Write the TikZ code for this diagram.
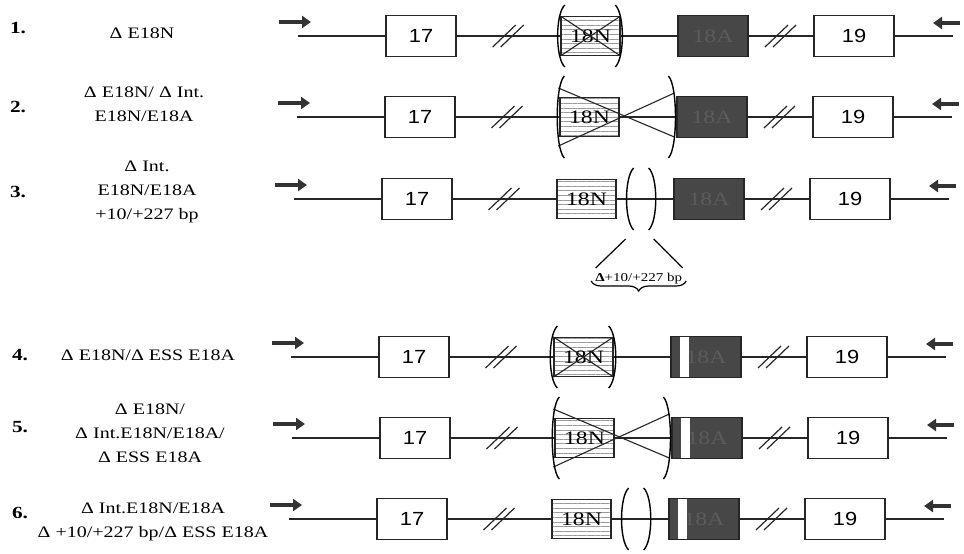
\documentclass[tikz,border=0pt]{standalone}
\usepackage{fontspec}
\setmainfont{Liberation Serif}[FakeStretch=1.25]
\newfontfamily\boxfont{Liberation Sans}[FakeStretch=1.15]
\usepackage{tikz}
\usetikzlibrary{arrows.meta,calc,positioning,patterns.meta}
\usetikzlibrary{decorations.pathreplacing}

\tikzset{
  pics/lbr/.style={code={\draw[line width=1.4pt] (7,-#1) .. controls (-2.5,-#1+9) and (-2.5,#1-9) .. (7,#1);}},
  pics/rbr/.style={code={\draw[line width=1.4pt] (-7,-#1) .. controls (2.5,-#1+9) and (2.5,#1-9) .. (-7,#1);}}
}

\begin{document}
\begin{tikzpicture}[x=1pt,y=-1pt,
    line/.style={draw=black!85, line width=1.3pt},
    exon/.style={draw=black!85, line width=1.3pt, inner sep=0pt, minimum height=41pt, fill=white, font=\boxfont\fontsize{19}{19}\selectfont},
    exonN/.style={exon, minimum width=59pt, minimum height=39pt, pattern={Lines[angle=0,distance=4.6pt,line width=0.5pt]}, pattern color=black!40, font=\rmfamily\fontsize{19}{19}\selectfont},
    exonA/.style={exon, minimum width=70pt, fill=black!72, text=black!64, font=\rmfamily\fontsize{19}{19}\selectfont},
    primer/.style={line width=4.5pt, draw=black!80, -{Triangle[length=9pt,width=12pt]}},
    cut/.style={line width=1.2pt, draw=black!85},
    lbl/.style={align=center, font=\fontsize{16}{24}\selectfont},
    num/.style={font=\bfseries\fontsize{17}{17}\selectfont}]
        \useasboundingbox (0,0) rectangle (964,554);
        %Rows
        \foreach \r/\yy/\dx in {1/36/0,2/117/-1,3/199/-4,4/357/-7,5/438/-6,6/519/-9}{
          \begin{scope}[shift={(\dx,\yy)}]
            \coordinate (s-\r) at (298,0);
            \coordinate (e-\r) at (953,0);
            \node[exon, minimum width=70pt] (a17-\r) at (421,0) {17};
            \node[exonN] (a18n-\r) at (590.5,0) {18N};
            \node[exonA] (a18a-\r) at (713,0) {18A};
            \node[exon, minimum width=80pt] (a19-\r) at (854,0) {19};
            \draw[line] (s-\r) -- (a17-\r) -- coordinate (c1-\r) (a18n-\r) -- (a18a-\r) -- coordinate (c2-\r) (a19-\r) -- (e-\r);
            %Primers
            \draw[primer] (279,-14) -- (311,-14);
            \draw[primer] (960,-13) -- (933,-13);
          \end{scope}
          %Breaks
          \foreach \c in {c1-\r,c2-\r}
            \draw[cut] ($(\c)+(-16,11)$) -- ++(23,-22) ($(\c)+(-8,11)$) -- ++(23,-22);
        }
        %Deleted exon 18N
        \foreach \r in {1,4}{
          \draw[line, line width=1.1pt] (a18n-\r.north west) -- (a18n-\r.south east) (a18n-\r.south west) -- (a18n-\r.north east);
          \pic at ($(a18n-\r.west)+(-3,0)$) {lbr=31};
          \pic at ($(a18n-\r.east)+(2,0)$) {rbr=31};
        }
        %Deleted exon 18N and intron
        \foreach \r in {2,5}{
          \draw[line, line width=1.1pt] ($(a18n-\r.west)+(-1,-29)$) -- ($(a18a-\r.west)+(-2,20)$)
            ($(a18n-\r.west)+(-1,29)$) -- ($(a18a-\r.west)+(-2,-24)$);
          \pic at ($(a18n-\r.west)+(-2,0)$) {lbr=41};
          \pic at ($(a18a-\r.west)+(-1,0)$) {rbr=41};
        }
        %Deleted +10/+227 bp
        \foreach \r in {3,6}{
          \pic at ($(a18n-\r.east)+(10,0)$) {lbr=31};
          \pic at ($(a18n-\r.east)+(39,0)$) {rbr=31};
        }
        %ESS
        \foreach \r in {4,5,6}
          \fill[white] ($(a18a-\r.north west)+(10,1.3)$) rectangle ($(a18a-\r.south west)+(19,-1.3)$);
        %Zoom on the deletion
        \coordinate (dl) at ($(a18n-3.east)+(9,40)$);
        \coordinate (dr) at ($(a18n-3.east)+(37,40)$);
        \node[inner sep=0pt, font=\fontsize{12}{12}\selectfont] (dbp) at ($(a18n-3.east)+(22,80)$) {\textbf{Δ}+10/+227 bp};
        \draw[line width=1.2pt] (dl) -- ++(-30,29) (dr) -- ++(29,29);
        \draw[line width=1.2pt, decorate, decoration={brace, mirror, amplitude=10pt}] ($(dbp.west)+(-4,2)$) -- ($(dbp.east)+(4,2)$);
        %Labels
        \node[num] (n1) at (18,28) {1.};
        \node[lbl] (l1) at (142,33) {Δ E18N};
        \node[num] (n2) at (18,107) {2.};
        \node[lbl] (l2) at (144,104) {Δ E18N/ Δ Int.\\E18N/E18A};
        \node[num] (n3) at (18,192) {3.};
        \node[lbl] (l3) at (147,192) {Δ Int.\\E18N/E18A\\+10/+227 bp};
        \node[num] (n4) at (20,355) {4.};
        \node[lbl] (l4) at (148,355) {Δ E18N/Δ ESS E18A};
        \node[num] (n5) at (20,427) {5.};
        \node[lbl] (l5) at (150,433) {Δ E18N/\\Δ Int.E18N/E18A/\\Δ ESS E18A};
        \node[num] (n6) at (20,513) {6.};
        \node[lbl] (l6) at (153,522) {Δ Int.E18N/E18A\\Δ +10/+227 bp/Δ ESS E18A};
      \end{tikzpicture}
\end{document}
